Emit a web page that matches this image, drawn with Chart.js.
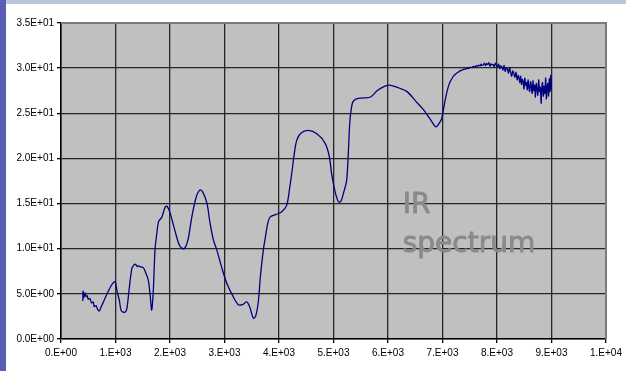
<!DOCTYPE html>
<html>
<head>
<meta charset="utf-8">
<title>IR spectrum</title>
<script src="https://cdn.jsdelivr.net/npm/chart.js@4/dist/chart.umd.min.js"></script>
<style>
  html, body { margin: 0; padding: 0; }
  body { width: 626px; height: 371px; overflow: hidden; background: #b9c7da; position: relative; }
  #leftbar { position: absolute; left: 0; top: 0; width: 6px; height: 371px; background: #5a5db4; }
  #sheet { position: absolute; left: 6px; top: 4px; width: 620px; height: 367px; background: #ffffff; }
  #wrap { position: absolute; left: 0; top: 0; width: 626px; height: 371px; }
</style>
</head>
<body>
<div id="leftbar"></div>
<div id="sheet"></div>
<div id="wrap"><canvas id="chart" width="626" height="371"></canvas></div>
<script>
// Measured spectrum: position along the x axis and the recorded signal.
const xValues = [
  400, 405, 420, 440, 460, 480, 500, 530, 560, 590,
  610, 640, 670, 700, 740, 800, 860, 920, 970, 997,
  1010, 1040, 1070, 1100, 1130, 1180, 1210, 1250, 1300, 1340,
  1358, 1380, 1400, 1420, 1460, 1511, 1550, 1602, 1640, 1664,
  1694, 1725, 1760, 1790, 1850, 1910, 1945, 2000, 2090, 2180,
  2260, 2330, 2400, 2480, 2550, 2600, 2680, 2730, 2795, 2857,
  2950, 3040, 3150, 3253, 3330, 3407, 3460, 3529, 3570, 3620,
  3660, 3713, 3743, 3790, 3835, 3950, 4050, 4141, 4190, 4233,
  4280, 4325, 4400, 4538, 4700, 4844, 4920, 4966, 5030, 5090,
  5132, 5190, 5242, 5275, 5303, 5350, 5420, 5550, 5680, 5800,
  5945, 6050, 6200, 6350, 6500, 6650, 6780, 6880, 6950, 6985,
  7050, 7120, 7199, 7250, 7300, 7330, 7360, 7390, 7420, 7450,
  7480, 7510, 7540, 7565, 7590, 7615, 7640, 7665, 7690, 7710,
  7730, 7750, 7770, 7790, 7810, 7830, 7850, 7870, 7890, 7910,
  7930, 7950, 7970, 7990, 8010, 8030, 8050, 8070, 8090, 8110,
  8130, 8150, 8170, 8190, 8210, 8230, 8250, 8270, 8290, 8310,
  8330, 8350, 8370, 8390, 8405, 8420, 8435, 8450, 8465, 8480,
  8495, 8510, 8525, 8540, 8555, 8570, 8585, 8600, 8615, 8630,
  8645, 8660, 8675, 8690, 8705, 8720, 8735, 8750, 8765, 8780,
  8795, 8810, 8822, 8835, 8850, 8865, 8880, 8893, 8906, 8920,
  8933, 8946, 8960, 8973, 8986, 9000
];
const signal = [
  4.2, 5.3, 4.6, 5.1, 4.7, 4.8, 4.4, 4.5, 4.0, 4.1,
  3.6, 3.7, 3.3, 3.1, 3.6, 4.4, 5.2, 5.9, 6.3, 6.35,
  5.9, 5.0, 4.3, 3.2, 3.0, 3.0, 3.4, 5.5, 7.8, 8.2,
  8.3, 8.2, 8.0, 8.1, 8.0, 7.9, 7.4, 6.5, 4.6, 3.2,
  5.4, 9.9, 11.8, 13.0, 13.5, 14.6, 14.7, 14.0, 12.0, 10.3,
  10.0, 11.0, 13.5, 15.7, 16.5, 16.3, 15.0, 13.0, 11.0, 9.9,
  7.9, 6.2, 4.8, 3.8, 3.8, 4.1, 3.6, 2.3, 2.5, 4.1,
  7.0, 9.9, 11.0, 12.7, 13.5, 13.8, 14.1, 14.8, 16.5, 18.3,
  20.5, 22.0, 22.8, 23.1, 22.7, 21.7, 20.3, 18.3, 16.3, 15.2,
  15.2, 16.3, 17.6, 21.0, 24.3, 26.2, 26.6, 26.7, 26.8, 27.5,
  28.0, 28.1, 27.8, 27.4, 26.4, 25.4, 24.3, 23.5, 24.0, 24.4,
  26.5, 28.2, 29.1, 29.4, 29.6, 29.72, 29.78, 29.9, 29.88, 30.0,
  29.95, 30.1, 30.05, 30.2, 30.12, 30.28, 30.2, 30.33, 30.25, 30.45,
  30.3, 30.36, 30.55, 30.28, 30.5, 30.42, 30.6, 30.22, 30.48, 30.35,
  30.4, 30.15, 30.55, 30.3, 30.2, 30.45, 29.95, 30.25, 30.1, 29.8,
  30.3, 29.65, 30.0, 29.9, 29.45, 30.05, 29.55, 29.1, 29.7, 29.35,
  29.0, 29.55, 28.7, 29.2, 28.9, 28.4, 29.1, 28.2, 28.75, 28.5,
  27.7, 28.9, 28.1, 28.4, 27.6, 28.7, 27.9, 27.4, 28.5, 28.0,
  27.2, 28.6, 27.5, 28.1, 26.8, 28.3, 27.7, 27.0, 28.7, 27.4,
  27.9, 26.1, 27.8, 28.4, 26.9, 28.0, 27.2, 28.9, 26.6, 27.9,
  28.3, 26.9, 28.8, 27.4, 29.2, 27.6
];

// Axis ranges and tick spacing
const xRange = [0, 10000];
const xStep = 1000;
const yRange = [0, 35];
const yStep = 5;

// Spreadsheet-style scientific labels: "1.E+03", "3.5E+01"
function sci(v, digits) {
  if (Math.abs(v) < 1e-12) {
    return (digits ? '0.' + '0'.repeat(digits) : '0.') + 'E+00';
  }
  const e = Math.floor(Math.log10(Math.abs(v)) + 1e-9);
  const m = v / Math.pow(10, e);
  const mant = digits ? m.toFixed(digits) : m.toFixed(0) + '.';
  return mant + 'E' + (e < 0 ? '-' : '+') + String(Math.abs(e)).padStart(2, '0');
}

const points = xValues.map((x, i) => ({ x: x, y: signal[i] }));

// Grey plot background plus the light frame on the top and right edges
const plotFrame = {
  id: 'plotFrame',
  beforeDraw(chart) {
    const { ctx, chartArea: a } = chart;
    ctx.save();
    ctx.fillStyle = '#c0c0c0';
    ctx.fillRect(a.left, a.top, a.right - a.left, a.bottom - a.top);
    ctx.restore();
  },
  afterDraw(chart) {
    const { ctx, chartArea: a } = chart;
    ctx.save();
    ctx.strokeStyle = '#7a7a7a';
    ctx.lineWidth = 2;
    ctx.beginPath();
    ctx.moveTo(a.left, a.top);
    ctx.lineTo(a.right, a.top);
    ctx.lineTo(a.right, a.bottom);
    ctx.stroke();
    ctx.restore();
  }
};

// Caption placed inside the plot
const caption = {
  id: 'caption',
  afterDatasetsDraw(chart) {
    const { ctx, scales } = chart;
    const x = scales.x.getPixelForValue(6270);
    const y1 = scales.y.getPixelForValue(14.0);
    const y2 = scales.y.getPixelForValue(9.6);
    ctx.save();
    ctx.fillStyle = '#8a8a8a';
    ctx.strokeStyle = '#8a8a8a';
    ctx.lineWidth = 0.9;
    ctx.lineJoin = 'round';
    ctx.font = '28px "DejaVu Sans", sans-serif';
    ctx.textBaseline = 'alphabetic';
    ctx.textAlign = 'left';
    ctx.fillText('IR', x, y1);
    ctx.strokeText('IR', x, y1);
    ctx.fillText('spectrum', x, y2);
    ctx.strokeText('spectrum', x, y2);
    ctx.restore();
  }
};

new Chart(document.getElementById('chart'), {
  type: 'line',
  data: {
    datasets: [{
      data: points,
      borderColor: '#000080',
      borderWidth: 1.3,
      pointRadius: 0,
      fill: false,
      tension: 0.3
    }]
  },
  options: {
    responsive: false,
    animation: false,
    events: [],
    layout: { padding: { top: 23, right: 20, bottom: 0, left: 0 } },
    plugins: { legend: { display: false }, tooltip: { enabled: false } },
    scales: {
      x: {
        type: 'linear',
        min: xRange[0],
        max: xRange[1],
        afterFit(scale) { scale.height = 32; },
        ticks: {
          stepSize: xStep,
          color: '#000',
          font: { family: '"Liberation Sans", Arial, sans-serif', size: 10 },
          padding: 4,
          maxRotation: 0,
          callback: (v) => sci(v, 0)
        },
        grid: { color: '#262626', lineWidth: 1.3, tickLength: 4, tickColor: '#000' },
        border: { display: true, color: '#000', width: 1.5 }
      },
      y: {
        type: 'linear',
        min: yRange[0],
        max: yRange[1],
        afterFit(scale) { scale.width = 61; },
        ticks: {
          stepSize: yStep,
          color: '#000',
          font: { family: '"Liberation Sans", Arial, sans-serif', size: 10 },
          padding: 3,
          callback: (v) => sci(v, 1)
        },
        grid: { color: '#262626', lineWidth: 1.3, tickLength: 4, tickColor: '#000' },
        border: { display: true, color: '#000', width: 1.5 }
      }
    }
  },
  plugins: [plotFrame, caption]
});
</script>
</body>
</html>
